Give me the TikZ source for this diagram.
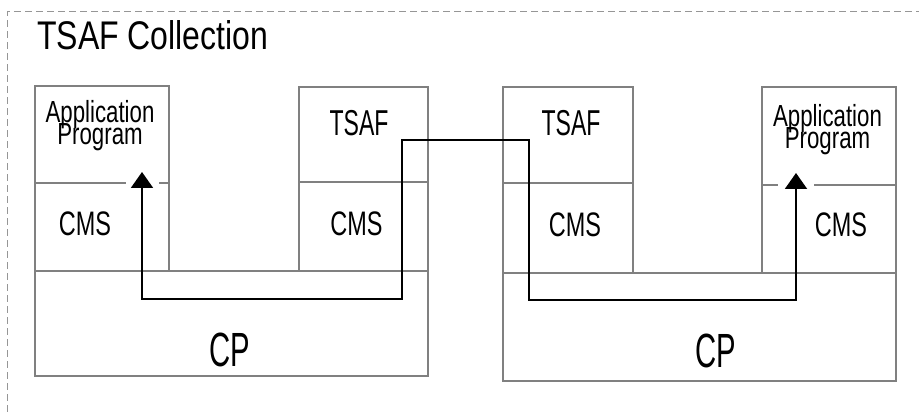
\documentclass[tikz,border=0pt]{standalone}
\usepackage{fontspec}
\setmainfont{Liberation Sans}
\usetikzlibrary{arrows.meta}
\definecolor{cinza}{RGB}{128,128,128}
\definecolor{cinzaclaro}{RGB}{150,150,150}
\newcommand{\fonteletra}[3]{\fontsize{#1}{#2}\selectfont\addfontfeature{FakeStretch=#3}}
\newcommand{\linhasjuntas}{\lineskiplimit=-50pt\relax}

\begin{document}
\begin{tikzpicture}[
  x=1pt, y=1pt,
  bloco/.style={draw=cinza, line width=1.2pt, inner sep=0pt},
  rotulo/.style={anchor=base, inner sep=0pt},
  titulo/.style={anchor=base west, inner sep=0pt, font=\fonteletra{40}{42}{0.80}},
  txtapp/.style={align=center, inner sep=0pt,
                 font={\fonteletra{30.5}{22}{0.73}\linhasjuntas}},
  txttsaf/.style={rotulo, font=\fonteletra{36}{36}{0.64}},
  txtcms/.style={rotulo, font=\fonteletra{34}{34}{0.69}},
  txtcp/.style={rotulo, font=\fonteletra{48}{48}{0.61}},
  vao/.style={fill=white, inner sep=0pt, minimum height=4pt},
  conexao/.style={{Triangle[length=16pt,width=22pt]}-{Triangle[length=16pt,width=22pt]},
                  line width=2pt},
  moldura/.style={draw=cinzaclaro, line width=1pt, dash pattern=on 7pt off 4pt}
]
\useasboundingbox (0,0) rectangle (919,412);

% moldura tracejada
\draw[moldura] (7,0) -- (7,400) -- (919,400);
\node[titulo] (tit) at (37,362) {TSAF Collection};

% lado esquerdo
\node[bloco, minimum width=134pt, minimum height=97pt]  (appE)  at (102,277.5) {};
\node[bloco, minimum width=134pt, minimum height=88pt]  (cmsE)  at (102,185)   {};
\node[bloco, minimum width=129pt, minimum height=95pt]  (tsafE) at (363.5,277.5) {};
\node[bloco, minimum width=129pt, minimum height=89pt]  (cmsE2) at (363.5,185.5) {};
\node[bloco, minimum width=393pt, minimum height=105pt] (cpE)   at (231.5,88.5) {};

% lado direito
\node[bloco, minimum width=130pt, minimum height=96pt]  (tsafD) at (568,277)   {};
\node[bloco, minimum width=130pt, minimum height=90pt]  (cmsD)  at (568,184)   {};
\node[bloco, minimum width=134pt, minimum height=98pt]  (appD)  at (829,276)   {};
\node[bloco, minimum width=134pt, minimum height=88pt]  (cmsD2) at (829,183)   {};
\node[bloco, minimum width=393pt, minimum height=108pt] (cpD)   at (699.5,85)  {};

% textos
\node[txtapp]  (tappE)  at (100,286)   {Application\\Program};
\node[txttsaf] (ttsafE) at (359,276)   {TSAF};
\node[txtcms]  (tcmsE)  at (85,176)    {CMS};
\node[txtcms]  (tcmsE2) at (356.5,176) {CMS};
\node[txtcp]   (tcpE)   at (229.5,45)  {CP};

\node[txttsaf] (ttsafD) at (571,276)   {TSAF};
\node[txtapp]  (tappD)  at (827.5,282) {Application\\Program};
\node[txtcms]  (tcmsD)  at (575,175)   {CMS};
\node[txtcms]  (tcmsD2) at (841,175)   {CMS};
\node[txtcp]   (tcpD)   at (715.5,44)  {CP};

% caminho entre os programas
\coordinate (pontaE) at (142,240);
\coordinate (cantoE) at (402,113);
\coordinate (cantoM) at (529,272);
\coordinate (cantoD) at (796,112);
\coordinate (pontaD) at (796,239);

\node[vao, minimum width=33pt] (vaoE) at (pontaE |- appE.south) {};
\node[vao, minimum width=36pt] (vaoD) at (pontaD |- appD.south) {};

\draw[conexao] (pontaE) |- (cantoE) |- (cantoM) |- (cantoD) -- (pontaD);

\end{tikzpicture}
\end{document}
